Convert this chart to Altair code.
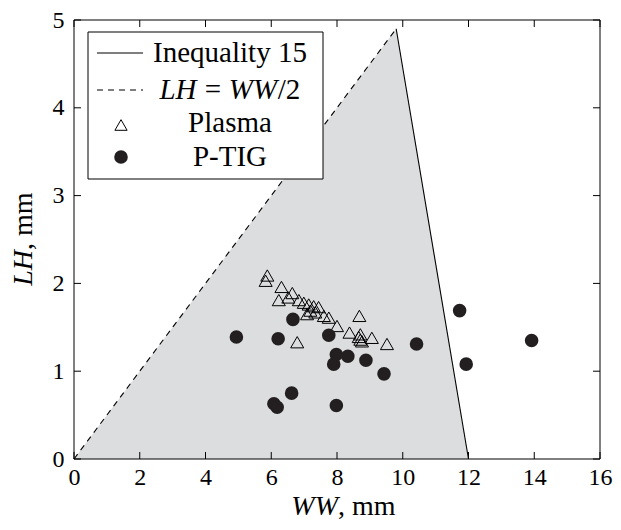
import altair as alt
import pandas as pd

# ---- data ----
region_ww = [0.0, 9.8, 12.0]
region_lh = [0.0, 4.9, 0.0]
ineq_ww = [9.8, 12.0]
ineq_lh = [4.9, 0.0]
half_ww = [0.0, 9.8]
half_lh = [0.0, 4.9]

plasma_ww = [5.88, 5.83, 6.31, 6.23, 6.64, 6.52, 6.84, 6.99, 7.14, 7.29, 7.44, 7.19, 7.09,
             7.34, 7.60, 7.75, 8.00, 8.68, 8.38, 8.71, 8.66, 8.71, 8.76, 9.06, 9.52, 6.79]
plasma_lh = [2.09, 2.03, 1.96, 1.81, 1.89, 1.84, 1.81, 1.78, 1.76, 1.74, 1.73, 1.69, 1.65,
             1.67, 1.63, 1.61, 1.515, 1.63, 1.44, 1.42, 1.39, 1.36, 1.34, 1.38, 1.31, 1.33]

ptig_ww = [4.94, 6.21, 6.66, 7.75, 7.98, 8.33, 7.90, 8.88, 9.43, 10.42, 6.62, 6.08, 6.18,
           7.98, 11.73, 11.93, 13.92]
ptig_lh = [1.39, 1.37, 1.59, 1.41, 1.19, 1.17, 1.08, 1.125, 0.97, 1.31, 0.75, 0.63, 0.59,
           0.61, 1.69, 1.08, 1.35]

x_ticks = [0, 2, 4, 6, 8, 10, 12, 14, 16]
y_ticks = [0, 1, 2, 3, 4, 5]

legend_labels = ["Inequality 15", "Plasma", "P-TIG"]

FONT = "Liberation Serif"
W, H = 526, 439

xs = alt.Scale(domain=[0, 16], nice=False, zero=False)
ys = alt.Scale(domain=[0, 5], nice=False, zero=False)

xax = alt.Axis(values=x_ticks, format="d", ticks=False, domain=False, grid=False, title=None,
               labelFlush=False, labelOverlap=False,
               labelFont=FONT, labelFontSize=24, labelColor="black", labelPadding=6)
yax = alt.Axis(values=y_ticks, format="d", ticks=False, domain=False, grid=False, title=None,
               labelFlush=False, labelOverlap=False,
               labelFont=FONT, labelFontSize=24, labelColor="black", labelPadding=10)

region = alt.Chart(pd.DataFrame({"ww": region_ww, "lh": region_lh})).mark_area(
    color="#dcdddf", opacity=1
).encode(
    x=alt.X("ww:Q", scale=xs, axis=xax),
    y=alt.Y("lh:Q", scale=ys, axis=yax),
)

ineq = alt.Chart(pd.DataFrame({"ww": ineq_ww, "lh": ineq_lh})).mark_line(
    color="black", strokeWidth=1.1
).encode(x=alt.X("ww:Q", scale=xs), y=alt.Y("lh:Q", scale=ys))

half = alt.Chart(pd.DataFrame({"ww": half_ww, "lh": half_lh})).mark_line(
    color="black", strokeWidth=1.1, strokeDash=[6, 5]
).encode(x=alt.X("ww:Q", scale=xs), y=alt.Y("lh:Q", scale=ys))

plasma = alt.Chart(pd.DataFrame({"ww": plasma_ww, "lh": plasma_lh})).mark_point(
    shape="triangle-up", filled=False, stroke="black", strokeWidth=1, size=170, opacity=1
).encode(x=alt.X("ww:Q", scale=xs), y=alt.Y("lh:Q", scale=ys))

ptig = alt.Chart(pd.DataFrame({"ww": ptig_ww, "lh": ptig_lh})).mark_circle(
    size=185, color="#231f20", opacity=1
).encode(x=alt.X("ww:Q", scale=xs), y=alt.Y("lh:Q", scale=ys))

xt = pd.DataFrame({"v": x_ticks})
yt = pd.DataFrame({"v": y_ticks})
TL = 7
tick_b = alt.Chart(xt).mark_rule(color="black", strokeWidth=1).encode(
    x=alt.X("v:Q", scale=xs), y=alt.value(H), y2=alt.value(H - TL))
tick_t = alt.Chart(xt).mark_rule(color="black", strokeWidth=1).encode(
    x=alt.X("v:Q", scale=xs), y=alt.value(0), y2=alt.value(TL))
tick_l = alt.Chart(yt).mark_rule(color="black", strokeWidth=1).encode(
    y=alt.Y("v:Q", scale=ys), x=alt.value(0), x2=alt.value(TL))
tick_r = alt.Chart(yt).mark_rule(color="black", strokeWidth=1).encode(
    y=alt.Y("v:Q", scale=ys), x=alt.value(W), x2=alt.value(W - TL))

one = pd.DataFrame({"a": [0]})
frame = alt.Chart(one).mark_rect(fill=None, stroke="black", strokeWidth=1).encode(
    x=alt.value(0), x2=alt.value(W), y=alt.value(0), y2=alt.value(H))

# ---- legend ----
leg_box = alt.Chart(one).mark_rect(fill="white", stroke="black", strokeWidth=1).encode(
    x=alt.value(14), x2=alt.value(249), y=alt.value(12), y2=alt.value(159))
leg_solid = alt.Chart(one).mark_rule(color="black", strokeWidth=1.1).encode(
    x=alt.value(23), x2=alt.value(69), y=alt.value(33))
leg_dash = alt.Chart(one).mark_rule(color="black", strokeWidth=1.1, strokeDash=[6, 5]).encode(
    x=alt.value(23), x2=alt.value(69), y=alt.value(70))
leg_tri = alt.Chart(one).mark_point(
    shape="triangle-up", filled=False, stroke="black", strokeWidth=1, size=150, opacity=1
).encode(x=alt.value(47), y=alt.value(105))
leg_circ = alt.Chart(one).mark_circle(size=185, color="#231f20", opacity=1).encode(
    x=alt.value(47), y=alt.value(137))

LFS = 29
def txt(s, x, y, italic=False, align="center", size=LFS, angle=0, baseline="middle"):
    kw = dict(font=FONT, fontSize=size, color="black", align=align, baseline=baseline)
    if italic:
        kw["fontStyle"] = "italic"
    if angle:
        kw["angle"] = angle
    return alt.Chart(pd.DataFrame({"t": [s]})).mark_text(**kw).encode(
        text="t:N", x=alt.value(x), y=alt.value(y))

leg_texts = [
    txt(legend_labels[0], 156, 33),
    txt("LH", 104, 70, italic=True),
    txt("=", 139, 70),
    txt("WW", 179, 70, italic=True),
    txt("/2", 215, 70),
    txt(legend_labels[1], 156, 103),
    txt(legend_labels[2], 156, 137),
]

# ---- axis titles ----
title_texts = [
    txt("WW", 264, 495, italic=True, align="right", size=28, baseline="alphabetic"),
    txt(", mm", 264, 495, align="left", size=28, baseline="alphabetic"),
    txt("LH", -50, 230, italic=True, align="right", size=28, angle=270),
    txt(", mm", -50, 230, align="left", size=28, angle=270),
]

chart = alt.layer(
    region, half, ineq, plasma, ptig,
    tick_b, tick_t, tick_l, tick_r, frame,
    leg_box, leg_solid, leg_dash, leg_tri, leg_circ, *leg_texts, *title_texts
).properties(
    width=W, height=H,
    autosize=alt.AutoSizeParams(type="none"),
    padding={"left": 66, "top": 12, "right": 13, "bottom": 62},
).configure_view(stroke=None)

chart.save("out.html", embed_options={"renderer": "svg", "actions": False})
